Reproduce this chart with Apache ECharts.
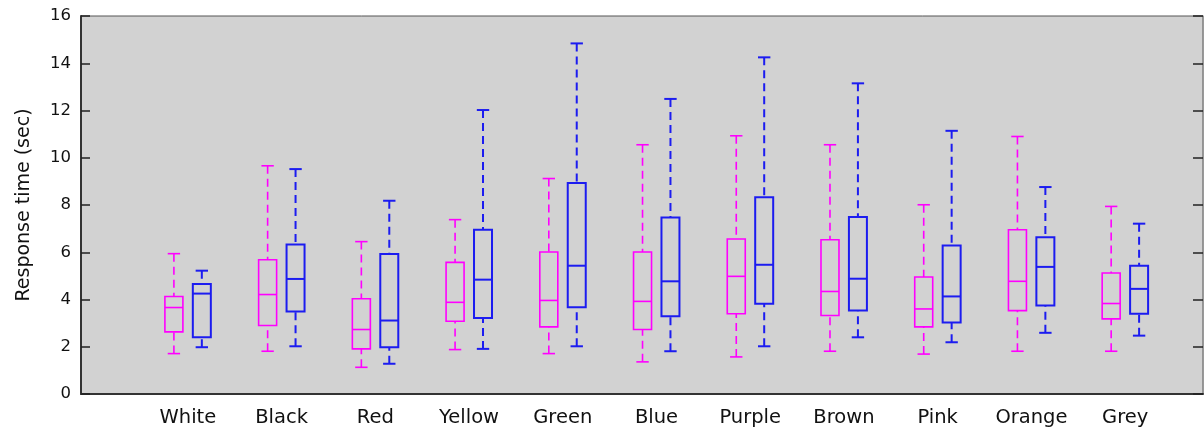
<!DOCTYPE html>
<html>
<head>
<meta charset="utf-8">
<script src="https://cdn.jsdelivr.net/npm/echarts@6/dist/echarts.min.js"></script>
<style>
html,body{margin:0;padding:0;background:#fff;}
#chart{width:1204px;height:432px;}
</style>
</head>
<body>
<div id="chart"></div>
<script>
// Categories (x-axis tick labels)
var categories = ['White','Black','Red','Yellow','Green','Blue','Purple','Brown','Pink','Orange','Grey'];
// Y-axis ticks
var yTicks = [0,2,4,6,8,10,12,14,16];
// Magenta group: [min, Q1, median, Q3, max] per category
var magentaBoxes = [
  [1.71,2.63,3.66,4.13,5.94],
  [1.81,2.90,4.21,5.68,9.66],
  [1.13,1.91,2.73,4.03,6.45],
  [1.88,3.08,3.88,5.57,7.38],
  [1.71,2.84,3.96,6.01,9.12],
  [1.36,2.73,3.92,6.01,10.55],
  [1.57,3.40,4.98,6.56,10.93],
  [1.81,3.32,4.34,6.53,10.55],
  [1.69,2.84,3.60,4.95,8.01],
  [1.81,3.53,4.77,6.95,10.90],
  [1.81,3.18,3.83,5.12,7.94]
];
// Blue group: [min, Q1, median, Q3, max] per category
var blueBoxes = [
  [1.98,2.40,4.25,4.66,5.22],
  [2.02,3.49,4.87,6.33,9.52],
  [1.28,1.98,3.11,5.93,8.18],
  [1.91,3.22,4.84,6.95,12.02],
  [2.02,3.67,5.43,8.93,14.84],
  [1.81,3.29,4.77,7.47,12.49],
  [2.02,3.82,5.47,8.33,14.25],
  [2.40,3.53,4.88,7.49,13.15],
  [2.19,3.03,4.13,6.29,11.14],
  [2.59,3.75,5.38,6.63,8.76],
  [2.47,3.40,4.45,5.43,7.21]
];

function toData(boxes){
  return boxes.map(function(b,i){ return [i].concat(b); });
}

function makeRender(color, side, lw){
  return function(params, api){
    var cat = api.value(0);
    var band = api.size([1,0])[0];
    var off = side * band * 0.149;
    var half = band * 0.096;
    var capHalf = band * 0.066;
    var pMin = api.coord([cat, api.value(1)]);
    var pQ1 = api.coord([cat, api.value(2)]);
    var pMed = api.coord([cat, api.value(3)]);
    var pQ3 = api.coord([cat, api.value(4)]);
    var pMax = api.coord([cat, api.value(5)]);
    var cx = pMin[0] + off;
    var solid = {stroke: color, lineWidth: lw, fill: null};
    var dashed = {stroke: color, lineWidth: lw, lineDash: [8,5], fill: null};
    return {
      type: 'group',
      children: [
        {type:'line', shape:{x1:cx,y1:pMax[1],x2:cx,y2:pQ3[1]}, style:dashed},
        {type:'line', shape:{x1:cx,y1:pMin[1],x2:cx,y2:pQ1[1]}, style:dashed},
        {type:'line', shape:{x1:cx-capHalf,y1:pMax[1],x2:cx+capHalf,y2:pMax[1]}, style:solid},
        {type:'line', shape:{x1:cx-capHalf,y1:pMin[1],x2:cx+capHalf,y2:pMin[1]}, style:solid},
        {type:'rect', shape:{x:cx-half,y:pQ3[1],width:half*2,height:pQ1[1]-pQ3[1]}, style:solid},
        {type:'line', shape:{x1:cx-half,y1:pMed[1],x2:cx+half,y2:pMed[1]}, style:solid}
      ]
    };
  };
}

var chart = echarts.init(document.getElementById('chart'), null, {renderer:'canvas'});
var yMin = yTicks[0], yMax = yTicks[yTicks.length-1], yStep = yTicks[1]-yTicks[0];
var option = {
  animation: false,
  backgroundColor: '#ffffff',
  grid: [
    {left: 81, right: 1, top: 16, bottom: 38, show: true, backgroundColor: '#d2d2d2', borderColor: '#555', borderWidth: 1},
    {left: 141, right: 32, top: 16, bottom: 38}
  ],
  xAxis: [
    {gridIndex: 0, type: 'value', min: 0, max: 1, axisLabel: {show: false}, axisTick: {show: false}, splitLine: {show: false},
     axisLine: {show: true, lineStyle: {color: '#333', width: 2}}},
    {gridIndex: 1, type: 'category', data: categories, boundaryGap: true,
     axisLine: {show: false}, axisTick: {show: false}, splitLine: {show: false},
     axisLabel: {show: true, interval: 0, margin: 14, color: '#111', fontSize: 19.5, fontFamily: 'DejaVu Sans'}}
  ],
  yAxis: [
    {gridIndex: 0, type: 'value', position: 'left', min: yMin, max: yMax, interval: yStep,
     name: 'Response time (sec)', nameLocation: 'middle', nameGap: 47,
     nameTextStyle: {color: '#111', fontSize: 19, fontFamily: 'DejaVu Sans'},
     axisLine: {show: true, lineStyle: {color: '#333', width: 2}},
     axisTick: {show: true, inside: true, length: 9, lineStyle: {color: '#222', width: 1.5}},
     axisLabel: {show: true, margin: 10, color: '#111', fontSize: 16.5, fontFamily: 'DejaVu Sans'},
     splitLine: {show: false}},
    {gridIndex: 0, type: 'value', position: 'right', min: yMin, max: yMax, interval: yStep,
     axisLine: {show: true, lineStyle: {color: '#999', width: 1}},
     axisTick: {show: true, inside: true, length: 10, lineStyle: {color: '#222', width: 1.5}},
     axisLabel: {show: false}, splitLine: {show: false}},
    {gridIndex: 1, type: 'value', min: yMin, max: yMax, show: false, splitLine: {show: false}}
  ],
  series: [
    {type: 'custom', name: 'magenta', xAxisIndex: 1, yAxisIndex: 2, data: toData(magentaBoxes),
     encode: {x: 0, y: [1,2,3,4,5]}, renderItem: makeRender('#ff00ff', -1, 1.6), z: 5},
    {type: 'custom', name: 'blue', xAxisIndex: 1, yAxisIndex: 2, data: toData(blueBoxes),
     encode: {x: 0, y: [1,2,3,4,5]}, renderItem: makeRender('#1c1cf0', 1, 2), z: 5}
  ]
};
chart.setOption(option);
</script>
</body>
</html>
